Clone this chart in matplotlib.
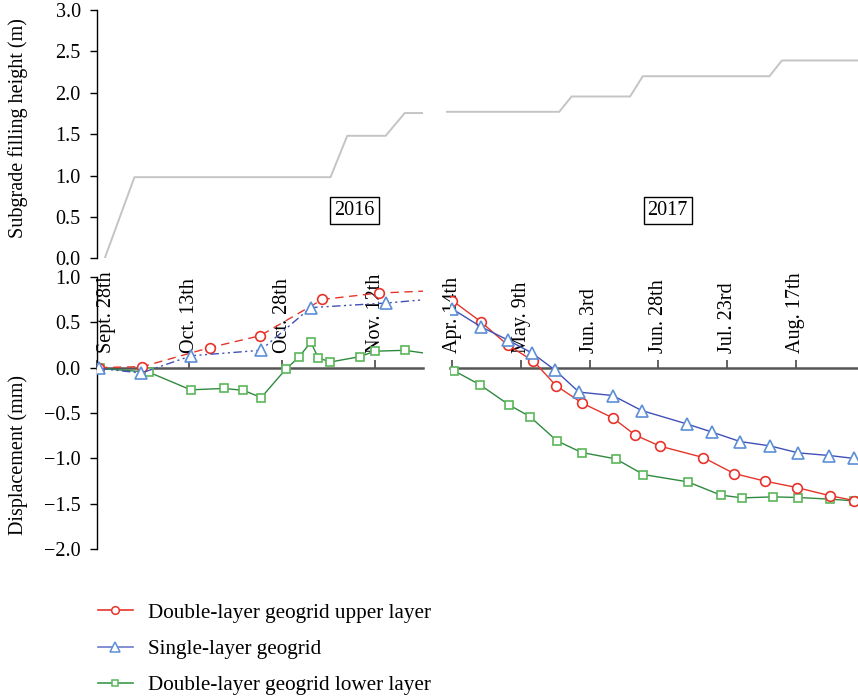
import matplotlib
matplotlib.use("Agg")
import matplotlib.pyplot as plt
from matplotlib.lines import Line2D

plt.rcParams['font.family'] = ['Liberation Serif', 'DejaVu Serif']
plt.rcParams['font.size'] = 14.5

# ---- time axes: days since the first tick of each season ----
ticks_2016 = [0, 15, 30, 45]
labels_2016 = ["Sept. 28th", "Oct. 13th", "Oct. 28th", "Nov. 12th"]
ticks_2017 = [0, 25, 50, 75, 100, 125]
labels_2017 = ["Apr. 14th", "May. 9th", "Jun. 3rd", "Jun. 28th", "Jul. 23rd", "Aug. 17th"]

# ---- subgrade filling height (m) ----
fill_day_2016 = [1.3, 6.1, 37.8, 40.5, 46.7, 49.8, 52.8]
fill_h_2016 = [0.0, 0.98, 0.98, 1.48, 1.48, 1.755, 1.755]
fill_day_2017 = [-2.0, 38.9, 43.4, 64.7, 69.3, 115.4, 119.9, 147.6]
fill_h_2017 = [1.77, 1.77, 1.955, 1.955, 2.2, 2.2, 2.39, 2.39]

# ---- displacement (mm), 2016 ----
up_day_2016 = [0.4, 7.4, 18.3, 26.4, 36.5, 45.6, 56.0]
up_val_2016 = [0.00, 0.01, 0.22, 0.35, 0.75, 0.82, 0.85]
single_day_2016 = [0.4, 7.2, 15.3, 26.5, 34.6, 46.8, 56.0]
single_val_2016 = [-0.01, -0.06, 0.13, 0.19, 0.66, 0.71, 0.765]
low_day_2016 = [0.5, 8.4, 15.2, 20.5, 23.7, 26.6, 30.6, 32.7, 34.6, 35.8, 37.7, 42.5, 45.0, 49.8, 56.0]
low_val_2016 = [-0.01, -0.05, -0.245, -0.23, -0.25, -0.33, -0.015, 0.115, 0.28, 0.11, 0.06, 0.12, 0.18, 0.19, 0.13]

# ---- displacement (mm), 2017 ----
up_day_2017 = [0.0, 10.3, 20.2, 29.5, 37.7, 47.3, 58.4, 66.6, 75.6, 91.3, 102.5, 113.8, 125.3, 137.4, 146.2]
up_val_2017 = [0.737, 0.506, 0.246, 0.073, -0.198, -0.392, -0.554, -0.744, -0.865, -0.99,
               -1.166, -1.25, -1.32, -1.41, -1.463]
single_day_2017 = [0.0, 10.3, 20.4, 29.1, 37.3, 46.1, 58.4, 68.9, 85.3, 94.6, 104.7, 115.6, 125.9, 137.2, 146.2]
single_val_2017 = [0.645, 0.451, 0.30, 0.158, -0.026, -0.27, -0.308, -0.473, -0.62, -0.711,
                   -0.814, -0.862, -0.939, -0.968, -1.0]
low_day_2017 = [0.5, 10.1, 20.6, 28.2, 38.1, 47.1, 59.5, 69.5, 85.7, 97.7, 105.5, 116.8, 125.9, 137.4, 146.2]
low_val_2017 = [-0.033, -0.19, -0.41, -0.539, -0.807, -0.935, -1.005, -1.177, -1.258, -1.404,
                -1.434, -1.423, -1.43, -1.448, -1.467]

series_names = ["Double-layer geogrid upper layer", "Single-layer geogrid",
                "Double-layer geogrid lower layer"]

W, H = 858, 697
fig = plt.figure(figsize=(W / 100, H / 100), dpi=100)


def rect(x0, x1, ytop, ybot):
    return [x0 / W, 1 - ybot / H, (x1 - x0) / W, (ybot - ytop) / H]


ax_tl = fig.add_axes(rect(96.7, 422.7, 10, 258.3))
ax_tr = fig.add_axes(rect(446, 858, 10, 258.3))
ax_bl = fig.add_axes(rect(96.7, 422.7, 276.7, 549.3))
ax_br = fig.add_axes(rect(450, 858, 276.7, 549.3))

for ax in (ax_tl, ax_tr, ax_bl, ax_br):
    ax.patch.set_alpha(0)
    for s in ("top", "right"):
        ax.spines[s].set_visible(False)

# ---- filling height panels ----
fill_color = "#c4c4c4"
ax_tl.plot(fill_day_2016, fill_h_2016, color=fill_color, lw=1.4)
ax_tr.plot(fill_day_2017, fill_h_2017, color=fill_color, lw=1.4)
for ax, lim in ((ax_tl, (0, 52.7)), (ax_tr, (-2.29, 147.6))):
    ax.set_xlim(*lim)
    ax.set_ylim(0, 3)
    ax.spines["bottom"].set_visible(False)
    ax.set_xticks([])
ax_tr.spines["left"].set_visible(False)
ax_tr.set_yticks([])
top_ticks = [0.0, 0.5, 1.0, 1.5, 2.0, 2.5, 3.0]
ax_tl.set_yticks(top_ticks)
ax_tl.set_yticklabels([f"{v:.1f}" for v in top_ticks])
ax_tl.tick_params(axis="y", direction="out", length=5, width=1, pad=6.5)
ax_tl.spines["left"].set_linewidth(1)
ax_tl.set_ylabel("Subgrade filling height (m)")
ax_tl.yaxis.set_label_coords(-0.21, 0.525)

box = dict(boxstyle="square,pad=0.2", facecolor="white", edgecolor="black", lw=1)
ax_tl.text(41.7, 0.58, "2016", ha="center", va="center", bbox=box)
ax_tr.text(78.4, 0.58, "2017", ha="center", va="center", bbox=box)

# ---- displacement panels ----
red_line, red_mk = "#e5352b", "#e8322a"
blue_line, blue_mk = "#4050b8", "#5b8fd6"
green_line, green_mk = "#2f8a40", "#5ab65a"

style_up = dict(color=red_line, marker="o", ms=7, mfc="white", mec=red_mk, mew=1.2, lw=1.0)
style_single = dict(color=blue_line, marker="^", ms=8.5, mfc="white", mec=blue_mk, mew=1.2, lw=1.0)
style_low = dict(color=green_line, marker="s", ms=6, mfc="white", mec=green_mk, mew=1.2, lw=1.0)

ax_bl.plot(low_day_2016, low_val_2016, zorder=3, **style_low)
ax_bl.plot(up_day_2016, up_val_2016, dashes=(6, 4), zorder=4, **style_up)
ax_bl.plot(single_day_2016, single_val_2016, dashes=(6, 2.5, 1.5, 2.5, 1.5, 2.5), zorder=5, **style_single)

ax_br.plot(low_day_2017, low_val_2017, zorder=3, **style_low)
ax_br.plot(up_day_2017, up_val_2017, zorder=4, **style_up)
ax_br.plot(single_day_2017, single_val_2017, zorder=5, **style_single)

bottom_ticks = [-2.0, -1.5, -1.0, -0.5, 0.0, 0.5, 1.0]
for ax, lim, ticks, labels in ((ax_bl, (0, 52.7), ticks_2016, labels_2016),
                               (ax_br, (-0.84, 147.6), ticks_2017, labels_2017)):
    ax.set_xlim(*lim)
    ax.set_ylim(-2, 1)
    ax.spines["bottom"].set_position(("data", 0))
    ax.spines["bottom"].set_color("#555555")
    ax.spines["bottom"].set_linewidth(1.8)
    ax.set_xticks(ticks)
    ax.set_xticklabels(labels)
    ax.tick_params(axis="x", direction="in", length=5.5, width=1.3, color="#555555",
                   pad=-10.8, labelrotation=90)
    for lbl in ax.get_xticklabels():
        lbl.set_va("bottom")
ax_bl.get_xticklabels()[0].set_ha("left")

ax_br.spines["left"].set_visible(False)
ax_br.set_yticks([])
ax_bl.set_yticks(bottom_ticks)
ax_bl.set_yticklabels([f"{v:.1f}".replace("-", "\u2212") for v in bottom_ticks])
ax_bl.tick_params(axis="y", direction="out", length=5, width=1, pad=6.5)
ax_bl.spines["left"].set_linewidth(1)
ax_bl.set_ylabel("Displacement (mm)")
ax_bl.yaxis.set_label_coords(-0.21, 0.346)

# ---- legend ----
handles = [Line2D([], [], color=red_line, marker="o", ms=5.5, mfc="white", mec=red_mk, mew=1.1, lw=1.2),
           Line2D([], [], color="#6d7bcc", marker="^", ms=7, mfc="white", mec=blue_mk, mew=1.1, lw=1.2),
           Line2D([], [], color="#3a9a4c", marker="s", ms=5, mfc="white", mec=green_mk, mew=1.1, lw=1.2)]
fig.legend(handles, series_names, loc="upper left", bbox_to_anchor=(98 / W, 1 - 603 / H),
           frameon=False, handlelength=1.65, handletextpad=0.7, labelspacing=0.78,
           borderpad=0, borderaxespad=0, fontsize=15.2)

fig.savefig("out.png", dpi=100)
